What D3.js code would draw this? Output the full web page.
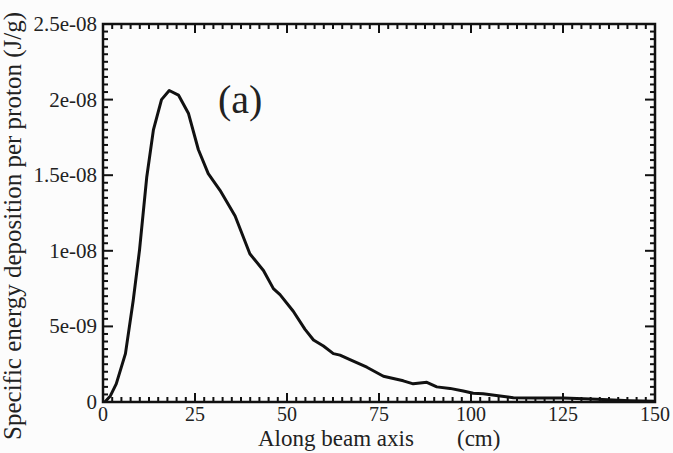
<!DOCTYPE html>
<html lang="en">
<head>
    <meta charset="UTF-8">
    <title>Specific energy deposition per proton</title>
    <script src="https://d3js.org/d3.v7.min.js"></script>
    <style>
        body {
            margin: 0;
            background-color: #fcfcfc;
        }
        svg text {
            font-family: "Liberation Serif", "DejaVu Serif", "Times New Roman", serif;
            fill: #222;
        }
        .frame {
            fill: none;
            stroke: #111;
            stroke-width: 2.5;
        }
        .tick-line {
            stroke: #111;
            stroke-width: 2;
        }
        .curve {
            fill: none;
            stroke: #111;
            stroke-width: 3;
            stroke-linejoin: round;
        }
    </style>
</head>
<body>

<svg id="chart" width="673" height="453"></svg>

<script>
    // Daten: Position entlang der Strahlachse (cm) und Dosis pro Proton (J/g)
    const depth = [0.5, 2, 3.6, 6.1, 8.2, 9.9, 11.9, 13.7, 15.9, 18.0, 20.5, 23.2, 25.9, 28.6, 31.8,
        35.9, 39.9, 43.6, 46.3, 48.1, 51.7, 54.9, 57.2, 59.9, 62.6, 64.4, 67.1, 71.7, 76.2, 78.0,
        81.6, 84.3, 88.0, 90.7, 94.3, 97.9, 100.6, 103.3, 107.9, 111.5, 117.9, 125.1, 134.2, 143.2, 150];
    const dose = [0.0e-8, 0.04e-8, 0.12e-8, 0.32e-8, 0.67e-8, 1.0e-8, 1.49e-8, 1.80e-8, 2.00e-8, 2.06e-8,
        2.03e-8, 1.91e-8, 1.67e-8, 1.51e-8, 1.40e-8, 1.23e-8, 0.98e-8, 0.87e-8, 0.75e-8, 0.71e-8,
        0.60e-8, 0.48e-8, 0.41e-8, 0.37e-8, 0.32e-8, 0.31e-8, 0.28e-8, 0.23e-8, 0.17e-8, 0.16e-8,
        0.14e-8, 0.12e-8, 0.13e-8, 0.10e-8, 0.09e-8, 0.073e-8, 0.058e-8, 0.055e-8, 0.04e-8, 0.028e-8,
        0.026e-8, 0.026e-8, 0.018e-8, 0.009e-8, 0.005e-8];

    const xTicks = [0, 25, 50, 75, 100, 125, 150];
    const yTicks = [0, 5e-9, 1e-8, 1.5e-8, 2e-8, 2.5e-8];
    const yTickLabels = ["0", "5e-09", "1e-08", "1.5e-08", "2e-08", "2.5e-08"];

    const svg = d3.select("#chart");
    const pLeft = 103, pRight = 655, pTop = 24, pBottom = 402;
    const serif = "'Liberation Serif', 'DejaVu Serif', 'Times New Roman', serif";

    const x = d3.scaleLinear().domain([0, 150]).range([pLeft, pRight]);
    const y = d3.scaleLinear().domain([0, 2.5e-8]).range([pBottom, pTop]);

    // Nebenstriche
    const xMinor = d3.range(0, 150.01, 2.5);
    const yMinor = d3.range(0, 2.5e-8 + 1e-12, 5e-10);

    const ticks = svg.append("g");
    xMinor.forEach((v, i) => {
        const len = i % 10 === 0 ? 9 : 5;
        ticks.append("line").attr("class", "tick-line")
            .attr("x1", x(v)).attr("x2", x(v))
            .attr("y1", pBottom).attr("y2", pBottom - len);
        ticks.append("line").attr("class", "tick-line")
            .attr("x1", x(v)).attr("x2", x(v))
            .attr("y1", pTop).attr("y2", pTop + len);
    });
    yMinor.forEach((v, i) => {
        const len = i % 10 === 0 ? 10 : 5;
        ticks.append("line").attr("class", "tick-line")
            .attr("x1", pLeft).attr("x2", pLeft + len)
            .attr("y1", y(v)).attr("y2", y(v));
        ticks.append("line").attr("class", "tick-line")
            .attr("x1", pRight).attr("x2", pRight - len)
            .attr("y1", y(v)).attr("y2", y(v));
    });

    // Kurve
    const line = d3.line()
        .x((d, i) => x(depth[i]))
        .y(d => y(d));
    svg.append("path")
        .datum(dose)
        .attr("class", "curve")
        .attr("d", line);

    // Rahmen
    svg.append("rect")
        .attr("class", "frame")
        .attr("x", pLeft).attr("y", pTop)
        .attr("width", pRight - pLeft).attr("height", pBottom - pTop);

    // Achsenbeschriftungen
    svg.selectAll(".xlab")
        .data(xTicks)
        .enter().append("text")
        .attr("x", d => x(d))
        .attr("y", 421)
        .attr("text-anchor", "middle")
        .attr("font-family", serif)
        .attr("font-size", "20px")
        .text(d => d);

    svg.selectAll(".ylab")
        .data(yTicks)
        .enter().append("text")
        .attr("x", 97)
        .attr("y", d => y(d) + 7)
        .attr("text-anchor", "end")
        .attr("font-family", serif)
        .attr("font-size", "21px")
        .text((d, i) => yTickLabels[i]);

    svg.append("text")
        .attr("x", 258)
        .attr("y", 446)
        .attr("font-family", serif)
        .attr("font-size", "23px")
        .text("Along beam axis");
    svg.append("text")
        .attr("x", 457)
        .attr("y", 446)
        .attr("font-family", serif)
        .attr("font-size", "23px")
        .text("(cm)");

    svg.append("text")
        .attr("transform", "translate(21,226) rotate(-90)")
        .attr("text-anchor", "middle")
        .attr("font-family", serif)
        .attr("font-size", "25px")
        .text("Specific energy deposition per proton (J/g)");

    svg.append("text")
        .attr("x", 218)
        .attr("y", 113)
        .attr("font-family", serif)
        .attr("font-size", "40px")
        .text("(a)");
</script>

</body>
</html>
